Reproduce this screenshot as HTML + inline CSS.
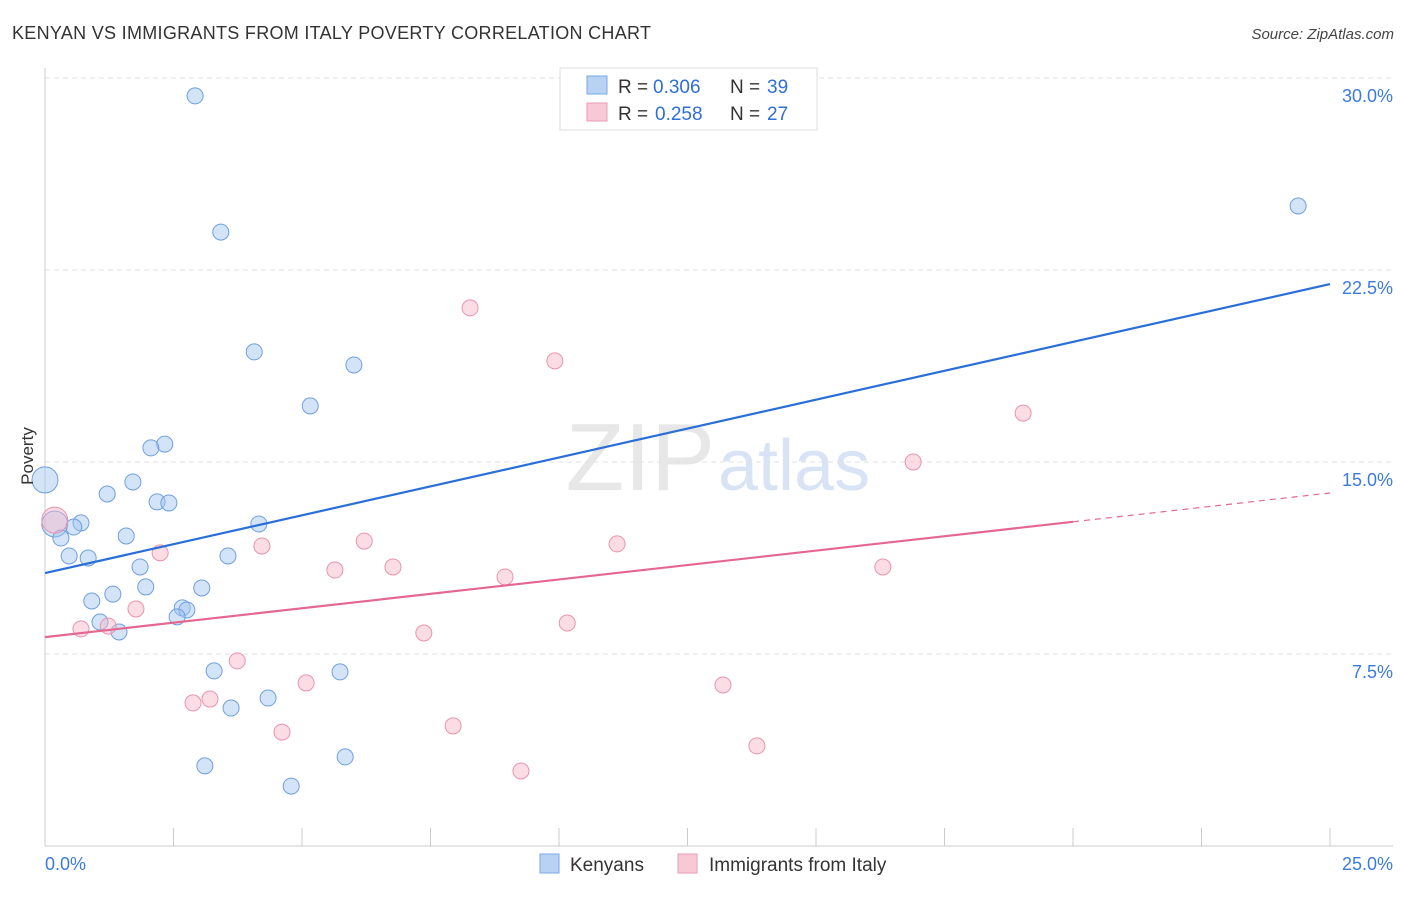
<!DOCTYPE html>
<html><head><meta charset="utf-8"><style>
body{margin:0;background:#fff;font-family:"Liberation Sans",sans-serif;}
svg text{font-family:"Liberation Sans",sans-serif;}
</style></head><body>
<svg id="chart" width="1406" height="892" viewBox="0 0 1406 892">
<text x="12" y="39" font-size="18" fill="#333" textLength="639">KENYAN VS IMMIGRANTS FROM ITALY POVERTY CORRELATION CHART</text>
<text x="1394" y="39" font-size="15" fill="#444" text-anchor="end" font-style="italic">Source: ZipAtlas.com</text>
<text x="715" y="490" font-size="96" fill="#ddd" text-anchor="end" font-family="Liberation Serif" opacity="0.7">ZIP</text>
<text x="718" y="490" font-size="72" fill="#c8daf2" opacity="0.7">atlas</text>
<g id="grid"></g>
<g id="axes"></g>
<g id="marks"></g>
<text transform="translate(33,456) rotate(-90)" font-size="17" fill="#333" text-anchor="middle">Poverty</text>
<g>
<rect x="560" y="68" width="257" height="62" fill="#fff" stroke="#ddd"/>
<rect x="587" y="76" width="20" height="18" fill="#b8d2f4" stroke="#7aa8e6"/>
<text x="618" y="93" font-size="19" fill="#333">R = </text>
<text x="653" y="93" font-size="19" fill="#2f6fd6">0.306</text>
<text x="730" y="93" font-size="19" fill="#333">N = </text>
<text x="767" y="93" font-size="19" fill="#2f6fd6">39</text>
<rect x="587" y="103" width="20" height="18" fill="#f9c8d7" stroke="#e99ab5"/>
<text x="618" y="120" font-size="19" fill="#333">R = </text>
<text x="655" y="120" font-size="19" fill="#2f6fd6">0.258</text>
<text x="730" y="120" font-size="19" fill="#333">N = </text>
<text x="767" y="120" font-size="19" fill="#2f6fd6">27</text>
</g>
<g>
<rect x="540" y="854" width="19" height="19" fill="#b8d2f4" stroke="#7aa8e6"/>
<text x="570" y="871" font-size="19" fill="#333">Kenyans</text>
<rect x="678" y="854" width="19" height="19" fill="#f9c8d7" stroke="#e99ab5"/>
<text x="709" y="871" font-size="19" fill="#333">Immigrants from Italy</text>
</g>
</svg>
<script>
const xTicks=[0,2.5,5,7.5,10,12.5,15,17.5,20,22.5,25];
const yTicks=[7.5,15,22.5,30];
const yTickLabels=["7.5%","15.0%","22.5%","30.0%"];
const kenyanX=[2.92,3.42,24.38,4.07,6.01,5.16,2.33,2.06,0,1.71,1.21,2.18,2.41,0.19,0.70,0.56,4.16,0.31,1.58,0.47,0.84,3.56,1.85,1.96,3.05,1.32,0.91,2.67,2.76,2.57,1.07,1.44,3.29,5.74,4.34,3.62,5.84,3.11,4.79];
const kenyanY=[29.30,23.98,25.0,19.30,18.79,17.19,15.70,15.55,14.3,14.22,13.75,13.44,13.40,12.58,12.62,12.46,12.58,12.03,12.11,11.33,11.25,11.33,10.90,10.12,10.08,9.84,9.57,9.30,9.22,8.95,8.75,8.36,6.84,6.80,5.78,5.39,3.48,3.13,2.34];
const italyX=[8.27,9.92,19.03,16.89,0.19,2.24,4.22,6.21,11.13,5.64,6.77,8.95,16.30,1.77,0.70,1.23,10.16,7.37,3.74,5.08,13.19,3.21,2.88,7.94,4.61,13.85,9.26];
const italyY=[21.02,18.95,16.91,15.0,12.73,11.45,11.72,11.91,11.80,10.78,10.90,10.51,10.90,9.26,8.48,8.59,8.71,8.32,7.23,6.37,6.29,5.74,5.59,4.69,4.45,3.91,2.93];
const kenyanTrend=[10.66,21.95];
const italyTrend=[8.16,13.79];
const italySolidEnd=20;
const NS='http://www.w3.org/2000/svg';
const sx=v=>45+v*51.4;
const sy=v=>846-v*25.6;
function mk(tag,attrs,parent){const e=document.createElementNS(NS,tag);for(const k in attrs)e.setAttribute(k,attrs[k]);parent.appendChild(e);return e;}
const grid=document.getElementById('grid'),axes=document.getElementById('axes'),marks=document.getElementById('marks');
yTicks.forEach((t,i)=>{
 const l=mk('line',{x1:45,x2:1393,y1:sy(t),y2:sy(t),stroke:'#e2e2e2','stroke-dasharray':'5,4'},grid);
 
 
 const tx=mk('text',{x:1393,y:sy(t)+24,'font-size':18,fill:'#3a7be0','text-anchor':'end'},axes);
 tx.textContent=yTickLabels[i];
 
 
});
const ya=mk('line',{x1:45,x2:45,y1:68,y2:846,stroke:'#ccc'},axes);


const xa=mk('line',{x1:45,x2:1393,y1:846,y2:846,stroke:'#ccc'},axes);


xTicks.forEach(t=>{
 const l=mk('line',{x1:sx(t),x2:sx(t),y1:828,y2:846,stroke:'#ccc'},axes);
 
 
});
const xl0=mk('text',{x:45,y:870,'font-size':18,fill:'#3a7be0'},axes);xl0.textContent=xTicks[0].toFixed(1)+'%';


const xl1=mk('text',{x:1393,y:870,'font-size':18,fill:'#3a7be0','text-anchor':'end'},axes);xl1.textContent=xTicks[xTicks.length-1].toFixed(1)+'%';


function dots(xs,ys,fill,stroke,name){xs.forEach((x,i)=>{
 const big=(x<0.25&&ys[i]>12.4);
 const c=mk('circle',{cx:sx(x),cy:sy(ys[i]),r:big?13:8,fill:fill,stroke:stroke,'stroke-width':1},marks);
 
 
});}
dots(kenyanX,kenyanY,'rgba(160,195,240,0.45)','#6e9fe0','kenyan-point');
dots(italyX,italyY,'rgba(248,180,200,0.45)','#e893b0','italy-point');
const bl=mk('line',{x1:sx(0),y1:sy(kenyanTrend[0]),x2:sx(25),y2:sy(kenyanTrend[1]),stroke:'#2a6fd8','stroke-width':2.2},marks);


const ym=italyTrend[0]+(italyTrend[1]-italyTrend[0])*italySolidEnd/25;
const pl=mk('line',{x1:sx(0),y1:sy(italyTrend[0]),x2:sx(italySolidEnd),y2:sy(ym),stroke:'#e5678f','stroke-width':2.2},marks);


const pd=mk('line',{x1:sx(italySolidEnd),y1:sy(ym),x2:sx(25),y2:sy(italyTrend[1]),stroke:'#e5678f','stroke-width':1.2,'stroke-dasharray':'6,5'},marks);


</script>
</body></html>
